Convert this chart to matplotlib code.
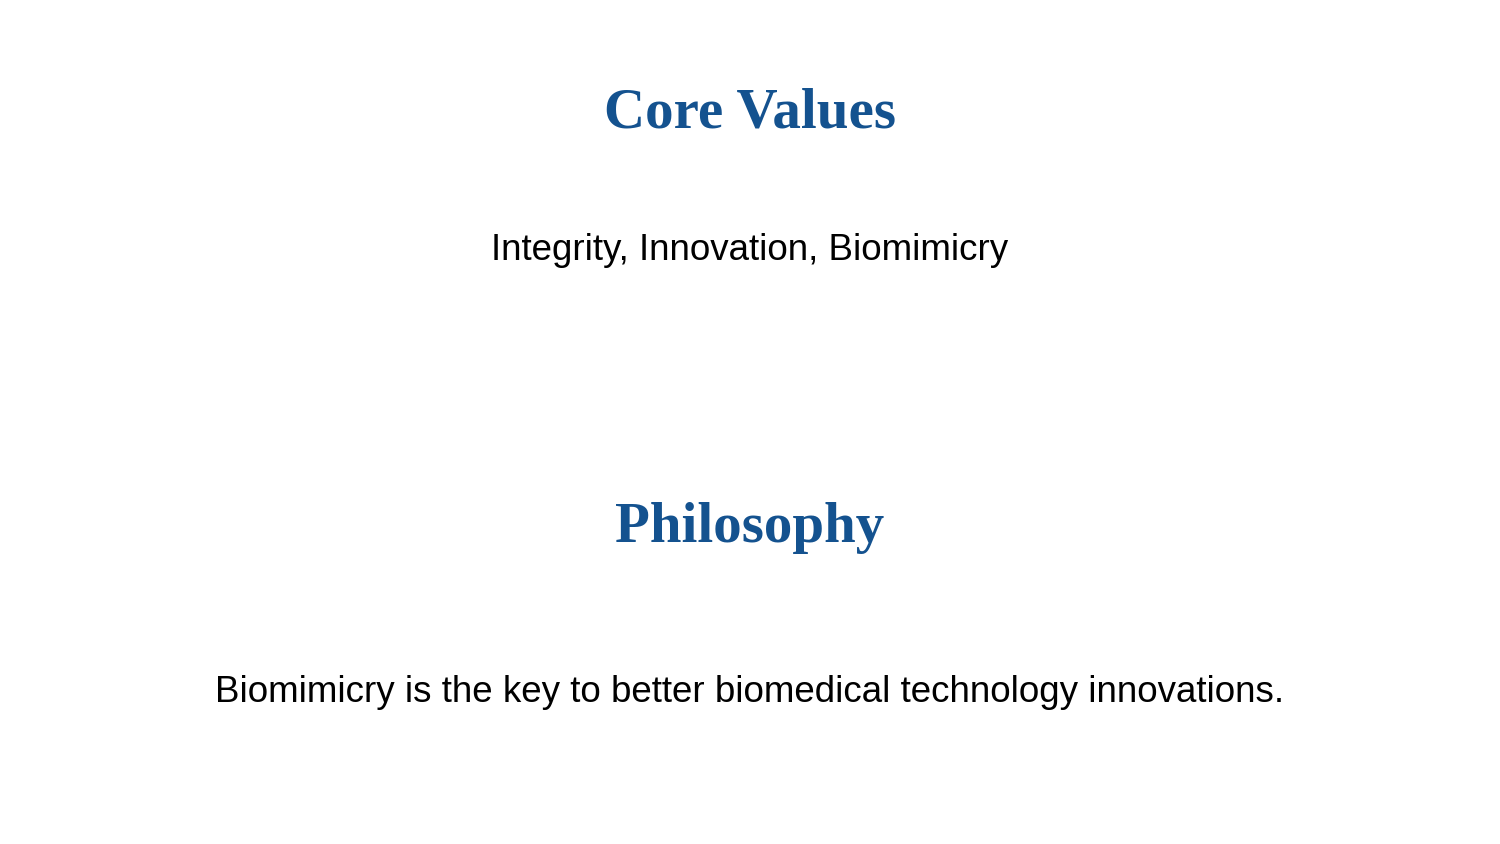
import matplotlib
matplotlib.use("Agg")
import matplotlib.pyplot as plt

headings = ["Core Values", "Philosophy"]
bodies = ["Integrity, Innovation, Biomimicry",
          "Biomimicry is the key to better biomedical technology innovations."]
heading_y = [113, 528]
body_y = [251, 693]

W, H = 1500, 844
fig = plt.figure(figsize=(15, 8.44), dpi=100)
fig.patch.set_facecolor("white")
for t, y in zip(headings, heading_y):
    fig.text(0.5, 1 - y / H, t, ha="center", va="center", fontsize=41,
             fontweight="bold", family=["Liberation Serif", "DejaVu Serif"], color="#14528f")
for t, y in zip(bodies, body_y):
    fig.text(0.5, 1 - y / H, t, ha="center", va="center", fontsize=26.5,
             family=["Liberation Sans", "DejaVu Sans"], color="black")
fig.savefig("out.png", dpi=100, facecolor="white")
